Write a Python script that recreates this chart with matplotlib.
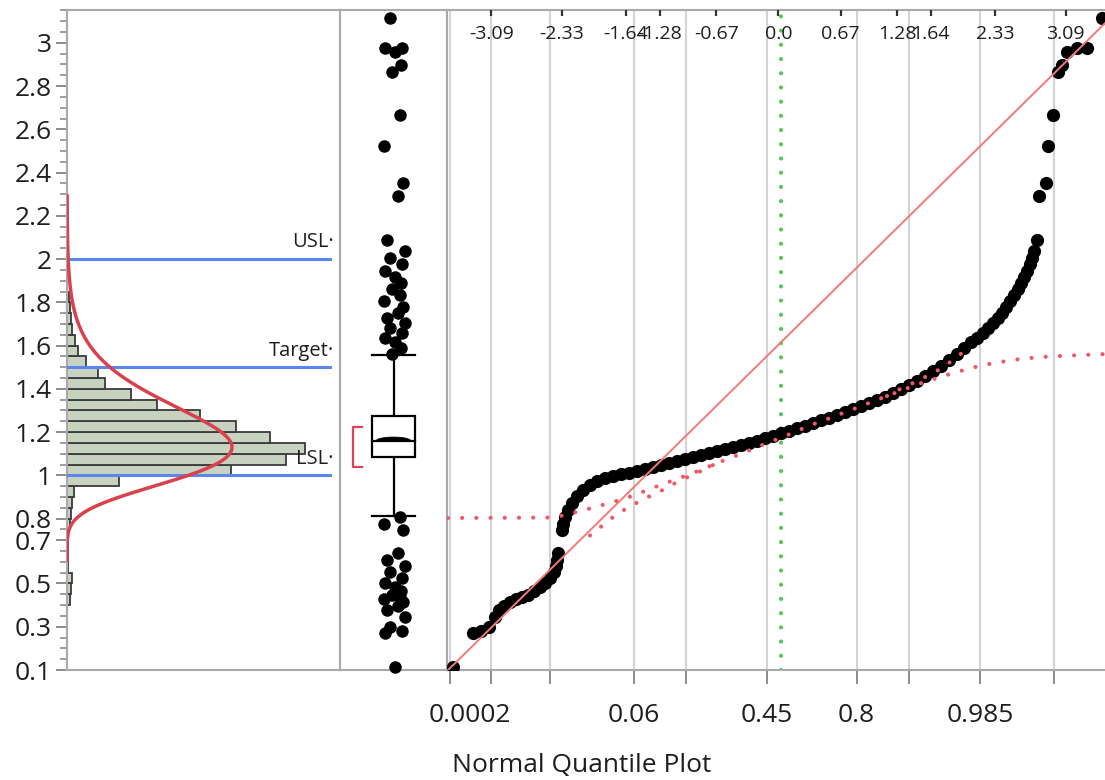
import numpy as np
import matplotlib
matplotlib.use("Agg")
import matplotlib.pyplot as plt
from matplotlib.transforms import ScaledTranslation, blended_transform_factory
from matplotlib.patches import Polygon, Rectangle
from statistics import NormalDist

plt.rcParams['font.family'] = ['Open Sans', 'DejaVu Sans']

# ---------------- data ----------------
y_tick_values = [3, 2.8, 2.6, 2.4, 2.2, 2, 1.8, 1.6, 1.4, 1.2, 1, 0.8, 0.7, 0.5, 0.3, 0.1]
y_tick_labels = ["3", "2.8", "2.6", "2.4", "2.2", "2", "1.8", "1.6", "1.4", "1.2", "1", "0.8", "0.7", "0.5", "0.3", "0.1"]

hist_bin_lo = [0.40, 0.45, 0.50, 0.55, 0.60, 0.65, 0.70, 0.75, 0.80, 0.85, 0.90, 0.95,
               1.00, 1.05, 1.10, 1.15, 1.20, 1.25, 1.30, 1.35, 1.40, 1.45, 1.50, 1.55,
               1.60, 1.65, 1.70, 1.75, 1.80]
hist_counts = [3, 4, 5, 1, 1, 1, 1, 3, 4, 5, 7, 52,
               164, 219, 238, 203, 169, 133, 90, 64, 38, 31, 19, 11,
               8, 5, 4, 3, 2]
hist_bin_width = 0.05

# fitted distribution (3-parameter lognormal) shown on the histogram
fit_threshold = 0.40
fit_sigma_log = 0.25
fit_mode = 1.13
fit_peak_count = 165
fit_range = (0.60, 2.30)

spec_names = ["USL", "Target", "LSL"]
spec_values = [2.0, 1.5, 1.0]

# box plot summary
box_q1 = 1.086
box_median = 1.16
box_q3 = 1.274
whisker_lo = 0.813
whisker_hi = 1.556
shortest_half = (1.038, 1.223)

# normal quantile plot: (normal quantile, value) of the plotted points
qq_z = [-3.504, -3.288, -3.202, -3.116, -3.052, -3.009, -2.955, -2.890, -2.826, -2.761,
        -2.696, -2.632, -2.567, -2.513, -2.460, -2.417, -2.395, -2.384, -2.373, -2.330,
        -2.320, -2.298, -2.266, -2.223, -2.169, -2.104, -2.029, -1.954, -1.868, -1.781,
        -1.695, -1.609, -1.523, -1.437, -1.351, -1.265, -1.179, -1.093, -1.006, -0.920,
        -0.834, -0.748, -0.662, -0.576, -0.490, -0.404, -0.318, -0.231, -0.145, -0.059,
        0.027, 0.113, 0.199, 0.285, 0.371, 0.457, 0.544, 0.630, 0.716, 0.802,
        0.888, 0.974, 1.060, 1.146, 1.233, 1.319, 1.405, 1.491, 1.577, 1.663,
        1.749, 1.835, 1.921, 1.997, 2.072, 2.137, 2.201, 2.255, 2.309, 2.363,
        2.406, 2.449, 2.492, 2.535, 2.578, 2.610, 2.643, 2.675, 2.707, 2.729,
        2.750, 2.783, 2.804, 2.879, 2.901, 2.955, 3.009, 3.052, 3.105, 3.213,
        3.321, 3.482]
qq_value = [0.114, 0.271, 0.279, 0.299, 0.345, 0.377, 0.396, 0.414, 0.428, 0.437,
            0.447, 0.465, 0.484, 0.502, 0.525, 0.553, 0.581, 0.608, 0.641, 0.747,
            0.775, 0.807, 0.840, 0.872, 0.904, 0.932, 0.955, 0.974, 0.988, 0.997,
            1.006, 1.011, 1.020, 1.029, 1.038, 1.048, 1.057, 1.066, 1.075, 1.085,
            1.094, 1.103, 1.112, 1.122, 1.131, 1.140, 1.149, 1.159, 1.172, 1.182,
            1.196, 1.205, 1.219, 1.228, 1.242, 1.256, 1.265, 1.279, 1.293, 1.307,
            1.320, 1.334, 1.348, 1.362, 1.380, 1.399, 1.417, 1.436, 1.459, 1.482,
            1.505, 1.533, 1.561, 1.589, 1.616, 1.635, 1.658, 1.681, 1.704, 1.727,
            1.750, 1.778, 1.806, 1.834, 1.861, 1.889, 1.917, 1.945, 1.977, 2.005,
            2.037, 2.088, 2.291, 2.351, 2.522, 2.666, 2.865, 2.897, 2.957, 2.975,
            2.975, 3.114]

# normal fit line
normal_mu = 1.604
normal_sigma = 0.423

# dotted fitted-quantile curves
curve1_z = [-3.558, -2.460, -2.298, -2.137, -1.975, -1.825, -1.674, -1.523, -1.383, -1.243,
            -1.093, -0.953, -0.813, -0.662, -0.522, -0.382, -0.231, -0.091, 0.038, 0.178,
            0.318, 0.468, 0.608, 0.748, 0.888, 1.028, 1.168, 1.308, 1.448, 1.598,
            1.738, 1.878, 2.029, 2.201, 2.384, 2.600, 2.815, 3.030, 3.245, 3.515]
curve1_v = [0.803, 0.805, 0.816, 0.835, 0.853, 0.872, 0.890, 0.913, 0.937, 0.960,
            0.983, 1.006, 1.029, 1.057, 1.080, 1.103, 1.131, 1.154, 1.177, 1.200,
            1.228, 1.251, 1.274, 1.297, 1.320, 1.344, 1.367, 1.390, 1.413, 1.436,
            1.454, 1.473, 1.491, 1.510, 1.524, 1.538, 1.547, 1.552, 1.556, 1.561]
curve2_low_z = [-2.029, -1.889, -1.781, -1.631, -1.491, -1.362, -1.222, -1.093, -0.953, -0.813, -0.662]
curve2_low_v = [0.722, 0.770, 0.807, 0.849, 0.881, 0.909, 0.937, 0.969, 0.997, 1.024, 1.057]
curve2_up_z = [1.168, 1.308, 1.448, 1.598, 1.738, 1.878, 2.029]
curve2_up_v = [1.367, 1.399, 1.427, 1.459, 1.491, 1.533, 1.584]

green_ref_z = 0.027

top_z_ticks = [-3.09, -2.33, -1.64, -1.28, -0.67, 0.0, 0.67, 1.28, 1.64, 2.33, 3.09]
top_z_labels = ["-3.09", "-2.33", "-1.64", "-1.28", "-0.67", "0.0", "0.67", "1.28", "1.64", "2.33", "3.09"]
bottom_p_ticks = [0.0002, 0.001, 0.007, 0.06, 0.16, 0.45, 0.8, 0.92, 0.985, 0.9985]
bottom_p_labels = ["0.0002", "", "", "0.06", "", "0.45", "0.8", "", "0.985", ""]

# ---------------- figure ----------------
W, H = 1105, 780
fig = plt.figure(figsize=(W / 100, H / 100), dpi=100)
fig.patch.set_facecolor("white")


def px_axes(x0, y0, x1, y1):
    return fig.add_axes([x0 / W, 1 - y1 / H, (x1 - x0) / W, (y1 - y0) / H])


YLIM = (0.1, 3.152)
SPINE = "#a9a9a9"
TXT = "#1e1e1e"

ax_h = px_axes(67, 10, 340, 670)
ax_b = px_axes(340, 10, 447, 670)
ax_q = px_axes(447, 10, 1105, 670)

for ax in (ax_h, ax_b, ax_q):
    ax.set_ylim(*YLIM)
    for s in ax.spines.values():
        s.set_color(SPINE)
        s.set_linewidth(1.5)

# ---- histogram panel ----
ax_h.set_xlim(0, 273)
ax_h.barh(np.array(hist_bin_lo) + hist_bin_width / 2, hist_counts, height=hist_bin_width,
          color="#c7d3c0", edgecolor="#3a3a3a", linewidth=1.3, zorder=2)

yy = np.linspace(fit_range[0], fit_range[1], 400)
t = yy - fit_threshold
mu_log = np.log(fit_mode - fit_threshold) + fit_sigma_log ** 2
dens = np.exp(-(np.log(t) - mu_log) ** 2 / (2 * fit_sigma_log ** 2)) / t
tm = fit_mode - fit_threshold
dmax = np.exp(-(np.log(tm) - mu_log) ** 2 / (2 * fit_sigma_log ** 2)) / tm
ax_h.plot(dens / dmax * fit_peak_count, yy, color="#d9414f", lw=2.5, zorder=4,
          solid_capstyle="butt")

trans_h = blended_transform_factory(ax_h.transAxes, ax_h.transData)
for name, v in zip(spec_names, spec_values):
    ax_h.axhline(v, xmin=0, xmax=0.963, color="#5a86ee", lw=2.2, zorder=3)
    ax_h.text(0.978, v, name + "\u00b7", transform=trans_h + ScaledTranslation(0, 12 / 72, fig.dpi_scale_trans),
              ha="right", va="center", fontsize=14.5, color=TXT, zorder=5)

ax_h.set_yticks(y_tick_values)
ax_h.set_yticklabels(y_tick_labels)
ax_h.set_yticks(np.round(np.arange(0.1, 3.151, 0.05), 3), minor=True)
ax_h.tick_params(axis="y", which="major", length=8, width=1.4, color="#8c8c8c",
                 labelsize=19, labelcolor=TXT, pad=3)
ax_h.tick_params(axis="y", which="minor", length=5, width=1.2, color="#8c8c8c")
ax_h.set_xticks([])

# ---- box plot panel ----
ax_b.set_xlim(0, 1)
ax_b.set_xticks([])
ax_b.set_yticks([])
bx0, bx1, bc = 0.295, 0.705, 0.5
ax_b.add_patch(Rectangle((bx0, box_q1), bx1 - bx0, box_q3 - box_q1, facecolor="white",
                         edgecolor="black", lw=1.6, zorder=4))
ax_b.plot([bx0, bx1], [box_median, box_median], color="black", lw=1.6, zorder=5)
th = np.linspace(0, np.pi, 40)
lens = np.column_stack([bc + 0.16 * np.cos(th), box_median + 0.017 * np.sin(th)])
ax_b.add_patch(Polygon(lens, closed=True, facecolor="black", edgecolor="black", lw=0.6, zorder=5))
ax_b.plot([bc, bc], [box_q3, whisker_hi], color="black", lw=1.6, zorder=3)
ax_b.plot([bc, bc], [box_q1, whisker_lo], color="black", lw=1.6, zorder=3)
ax_b.plot([bx0, bx1], [whisker_hi, whisker_hi], color="black", lw=1.6, zorder=3)
ax_b.plot([bx0, bx1], [whisker_lo, whisker_lo], color="black", lw=1.6, zorder=3)
ax_b.plot([0.206, 0.121, 0.121, 0.206], [shortest_half[1], shortest_half[1], shortest_half[0], shortest_half[0]],
          color="#e0405a", lw=1.6, zorder=3)

qv = np.array(qq_value)
outliers = qv[(qv > whisker_hi) | (qv < whisker_lo)]
jitter_pattern = np.array([0.0, -0.09, 0.07, -0.04, 0.10, -0.07, 0.03, 0.08, -0.10, 0.05, -0.02, 0.06])
jit = jitter_pattern[np.arange(len(outliers)) % len(jitter_pattern)]
ax_b.plot(0.51 + jit, outliers, "o", color="black", markersize=9, markeredgewidth=0, zorder=4,
          clip_on=False)

# ---- normal quantile plot ----
ax_q.set_xlim(-3.568, 3.515)
ax_q.set_yticks([])
ax_q.spines["right"].set_visible(False)
nd = NormalDist()
bottom_z = [nd.inv_cdf(p) for p in bottom_p_ticks]
for z in bottom_z:
    ax_q.axvline(z, color="#d3d3d3", lw=1.5, zorder=0)
ax_q.set_xticks(bottom_z)
ax_q.set_xticklabels(bottom_p_labels)
ax_q.tick_params(axis="x", which="major", length=10, width=1.4, color="#8c8c8c",
                 labelsize=19, labelcolor=TXT, pad=14)
lbl0 = ax_q.get_xticklabels()[0]
lbl0.set_transform(lbl0.get_transform() + ScaledTranslation(20 / 100, 0, fig.dpi_scale_trans))

ax_q.plot(qq_z, qq_value, "o", color="black", markersize=9.5, markeredgewidth=0, zorder=3)

zl = np.array(ax_q.get_xlim())
ax_q.plot(zl, normal_mu + normal_sigma * zl, color="#f07a7c", lw=1.4, zorder=5)
ax_q.axvline(green_ref_z, color="#52c852", lw=3.0, linestyle=(0, (0.01, 3.4)),
             dash_capstyle="round", zorder=2)
dot_style = dict(color="#ee5868", lw=3.0, linestyle=(0, (0.01, 3.4)), dash_capstyle="round", zorder=6)
ax_q.plot(curve1_z, curve1_v, **dot_style)
ax_q.plot(curve2_low_z, curve2_low_v, **dot_style)
ax_q.plot(curve2_up_z, curve2_up_v, **dot_style)

ax_t = ax_q.twiny()
ax_t.set_xlim(ax_q.get_xlim())
ax_t.set_xticks(top_z_ticks)
ax_t.set_xticklabels(top_z_labels)
ax_t.tick_params(axis="x", direction="in", length=4, width=1.6, color="#333333",
                 labelsize=14, labelcolor=TXT, pad=-24)
for s in ax_t.spines.values():
    s.set_visible(False)
ax_t.set_yticks([])

fig.text(452 / W, 1 - 765 / H, "Normal Quantile Plot", ha="left", va="center",
         fontsize=19, color=TXT)

fig.savefig("out.png", dpi=100)
